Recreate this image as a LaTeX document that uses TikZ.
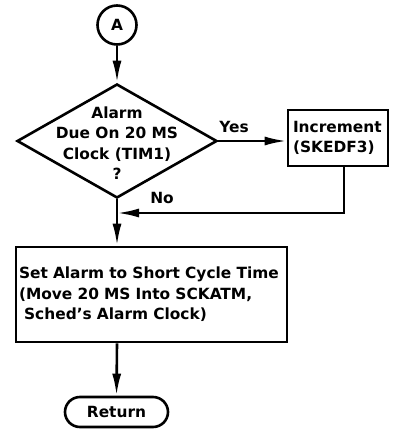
\documentclass[tikz,border=0pt]{standalone}
\usepackage{fontspec}
\setmainfont{DejaVu Sans}
\usetikzlibrary{shapes.geometric,arrows.meta}
\begin{document}
\begin{tikzpicture}[x=1pt,y=-1pt,
  line width=2.6pt,
  txt/.style={font=\bfseries\fontsize{15.4}{20.5}\selectfont, inner sep=0},
  box/.style={draw, txt, align=left, inner ysep=0},
  arr/.style={-{Latex[length=22,width=9]}}]
\useasboundingbox (0,0) rectangle (392,430);
\node[circle, draw, minimum size=39, txt] (A) at (117,25) {A};
\node[diamond, draw, minimum width=200, minimum height=114, inner sep=0] (dec) at (117,141) {};
\node[txt, align=center] (dect) at (117,143) {Alarm\\Due On 20 MS\\Clock (TIM1)\\?};
\node[box, text width=90, inner xsep=5, minimum height=56] (inc) at (338,138) {Increment\\(SKEDF3)};
\node[box, text width=265, inner xsep=3, minimum height=95] (main) at (151.5,294.5) {Set Alarm to Short Cycle Time\\(Move 20 MS Into SCKATM,\\\ Sched's Alarm Clock)};
\node[draw, rounded corners=15, minimum width=103, minimum height=30, txt] (ret) at (116.5,412) {Return};
\node[txt] (yes) at (234,127) {Yes};
\node[txt] (no) at (162,198) {No};
\coordinate (j) at (117,213);
\coordinate (c) at (344,213);
\draw[arr] (A) -- (dec.north);
\draw[arr] (dec.east) -- (inc.west |- dec.east);
\draw[arr] (c |- inc.south) -- (c) -- (j);
\draw (dec.south) -- (j);
\draw[arr] (j) -- (j |- main.north);
\draw[arr] (j |- main.south) -- (ret.north);
\end{tikzpicture}
\end{document}
